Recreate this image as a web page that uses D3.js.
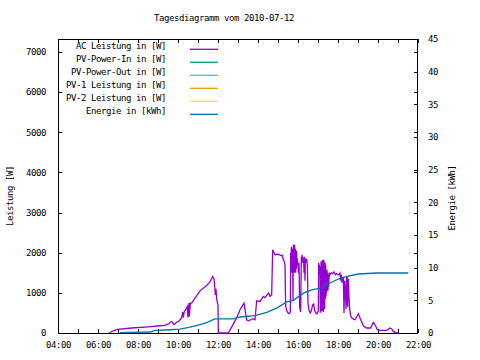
<!DOCTYPE html>
<html><head><meta charset="utf-8">
<script src="https://cdn.jsdelivr.net/npm/d3@7"></script>
<style>
body{margin:0;background:#fff;}
text{font-family:"DejaVu Sans Mono",monospace;font-size:9px;letter-spacing:-0.42px;fill:#000;}
</style></head><body>
<svg id="c" width="480" height="360"></svg>
<script>
const title = "Tagesdiagramm vom 2010-07-12";
const yLabel = "Leistung [W]";
const y2Label = "Energie [kWh]";
const legendNames = ["AC Leistung in [W]","PV-Power-In in [W]","PV-Power-Out in [W]","PV-1 Leistung in [W]","PV-2 Leistung in [W]","Energie in [kWh]"];
const legendColors = ["#9400d3","#009e73","#56b4e9","#e69f00","#f0e442","#0072b2"];
const xTicks = ["04:00","05:00","06:00","07:00","08:00","09:00","10:00","11:00","12:00","13:00","14:00","15:00","16:00","17:00","18:00","19:00","20:00","21:00","22:00"];
const yTicks = [0,1000,2000,3000,4000,5000,6000,7000];
const y2Ticks = [0,5,10,15,20,25,30,35,40,45];

const acTimes = ["06:33","06:46","06:58","07:41","08:31","09:06","09:21","09:31","09:41","09:48","09:54","10:03","10:11","10:14","10:16","10:19","10:22","10:28","10:30","10:33","10:34","10:37","10:41","10:51","11:06","11:26","11:36","11:44","11:48","11:51","11:52","11:54","11:56","12:00","12:01","12:31","12:56","13:06","13:16","13:18","13:26","13:31","13:46","13:51","13:56","14:06","14:16","14:21","14:26","14:32","14:36","14:41","14:44","14:51","15:01","15:09","15:13","15:16","15:18","15:21","15:23","15:26","15:30","15:34","15:37","15:38","15:39","15:40","15:41","15:42","15:43","15:44","15:45","15:46","15:47","15:48","15:49","15:50","15:51","15:52","15:53","15:54","15:55","15:56","15:57","15:58","16:00","16:02","16:03","16:05","16:08","16:10","16:11","16:12","16:13","16:14","16:15","16:17","16:18","16:19","16:20","16:21","16:22","16:24","16:26","16:28","16:30","16:33","16:37","16:40","16:44","16:47","16:50","16:53","16:57","17:01","17:02","17:03","17:04","17:05","17:06","17:07","17:08","17:09","17:10","17:11","17:12","17:13","17:14","17:15","17:16","17:17","17:18","17:19","17:20","17:21","17:22","17:23","17:24","17:25","17:26","17:27","17:28","17:29","17:30","17:31","17:32","17:34","17:36","17:40","17:44","17:48","17:52","17:56","18:00","18:04","18:06","18:08","18:10","18:12","18:14","18:16","18:18","18:20","18:22","18:24","18:26","18:27","18:28","18:29","18:31","18:33","18:35","18:38","18:41","18:45","18:51","19:01","19:06","19:16","19:26","19:38","19:46","19:51","19:58","20:06","20:26","20:36","20:41","20:46","20:51","21:01"];
const acValues = [0,55,90,125,155,180,190,225,290,210,255,300,375,520,390,550,560,660,390,745,410,745,745,870,1050,1185,1270,1410,1350,1075,950,1100,830,700,0,0,375,580,720,745,330,305,355,330,800,785,910,880,935,995,910,950,2070,1950,1965,1930,1930,1820,1800,1700,680,560,500,480,520,2000,1600,2150,1500,2100,1550,2050,800,2195,1550,2150,1500,2200,1650,2100,1500,2000,1600,2050,1700,1850,1650,1500,1750,650,520,1900,1750,1950,1800,1900,1750,1850,1500,1900,1750,1300,1850,1750,1850,1700,750,560,500,560,700,720,560,500,480,560,1740,1500,1700,1450,1650,520,520,1780,700,1750,550,1820,600,1800,520,1820,700,1780,600,1750,850,1700,900,1550,1000,1575,1100,1500,1050,1450,1150,1500,1450,1500,1480,1520,1450,1480,1450,1460,1490,1300,1450,1250,1400,1350,500,1300,1100,600,1400,700,1380,650,1350,900,600,420,380,350,330,480,375,180,125,125,265,205,80,65,65,125,100,40,15,0];

const eTimes = ["07:06","07:36","08:36","08:51","09:36","10:06","10:36","11:06","11:26","11:51","12:46","13:06","13:51","14:26","14:56","15:26","15:46","16:16","16:41","17:11","17:36","18:01","18:26","19:01","19:56","21:31"];
const eValues = [0.05,0.1,0.15,0.4,0.5,0.6,0.9,1.27,1.6,2.15,2.15,2.45,2.65,3.15,3.8,4.75,5.0,6.1,6.6,6.9,7.65,8.26,8.66,9.03,9.18,9.18];

const parse = d3.timeParse("%H:%M");
const L = 58, R = 418, T = 39, B = 333;
const svg = d3.select("#c");
const x = d3.scaleTime().domain([parse("04:00"), parse("22:00")]).range([L, R]);
const y = d3.scaleLinear().domain([0, 7320]).range([B, T]);
const y2 = d3.scaleLinear().domain([0, 45]).range([B, T]);

// title
svg.append("text").attr("x", 224).attr("y", 21).attr("text-anchor", "middle").text(title);

// axes
const fmt = d3.timeFormat("%H:%M");
svg.append("g").attr("transform", `translate(0,${B})`)
  .call(d3.axisBottom(x).tickValues(xTicks.map(parse)).tickSize(-4).tickPadding(8.5)
    .tickFormat(d => d.getHours() % 2 === 0 ? fmt(d) : ""));
svg.append("g").attr("transform", `translate(0,${T})`)
  .call(d3.axisTop(x).tickValues(xTicks.map(parse)).tickSize(-4).tickFormat(""));
svg.append("g").attr("transform", `translate(${L},0)`)
  .call(d3.axisLeft(y).tickValues(yTicks).tickSize(-4).tickPadding(12).tickFormat(d3.format("d")));
svg.append("g").attr("transform", `translate(${R},0)`)
  .call(d3.axisRight(y).tickValues(yTicks).tickSize(-4).tickFormat(""));
svg.append("g").attr("transform", `translate(${R},0)`)
  .call(d3.axisRight(y2).tickValues(y2Ticks).tickSize(-4).tickPadding(10).tickFormat(d3.format("d")));
svg.selectAll(".domain").remove();
svg.selectAll(".tick line").attr("stroke", "#000").attr("shape-rendering", "crispEdges");
svg.selectAll(".tick text").attr("font-family", null).attr("font-size", null);

// frame
svg.append("rect").attr("x", L + 0.5).attr("y", T + 0.5).attr("width", R - L - 1).attr("height", B - T)
  .attr("fill", "none").attr("stroke", "#000").attr("shape-rendering", "crispEdges");

// axis labels
svg.append("text").attr("transform", "translate(13,196) rotate(-90)").attr("text-anchor", "middle").text(yLabel);
svg.append("text").attr("transform", "translate(455,198) rotate(-90)").attr("text-anchor", "middle").text(y2Label);

// data lines
svg.append("clipPath").attr("id", "clp").append("rect").attr("x", L).attr("y", T).attr("width", R - L).attr("height", B - T + 1);
const ac = acTimes.map((t, i) => ({t: parse(t), v: acValues[i]}));
const en = eTimes.map((t, i) => ({t: parse(t), v: eValues[i]}));
svg.append("path").datum(ac).attr("clip-path", "url(#clp)")
  .attr("fill", "none").attr("stroke", legendColors[0]).attr("stroke-width", 1.3)
  .attr("d", d3.line().x(d => x(d.t)).y(d => y(d.v)));
svg.append("path").datum(en).attr("clip-path", "url(#clp)")
  .attr("fill", "none").attr("stroke", legendColors[5]).attr("stroke-width", 1.3)
  .attr("d", d3.line().x(d => x(d.t)).y(d => y2(d.v)));

// legend
const lg = svg.append("g");
legendNames.forEach((n, i) => {
  const yy = 49.3 + i * 13;
  lg.append("text").attr("x", 166).attr("y", yy).attr("text-anchor", "end").text(n);
  lg.append("line").attr("x1", 190).attr("x2", 218).attr("y1", yy).attr("y2", yy)
    .attr("stroke", legendColors[i]).attr("stroke-width", 1.3);
});
</script></body></html>
